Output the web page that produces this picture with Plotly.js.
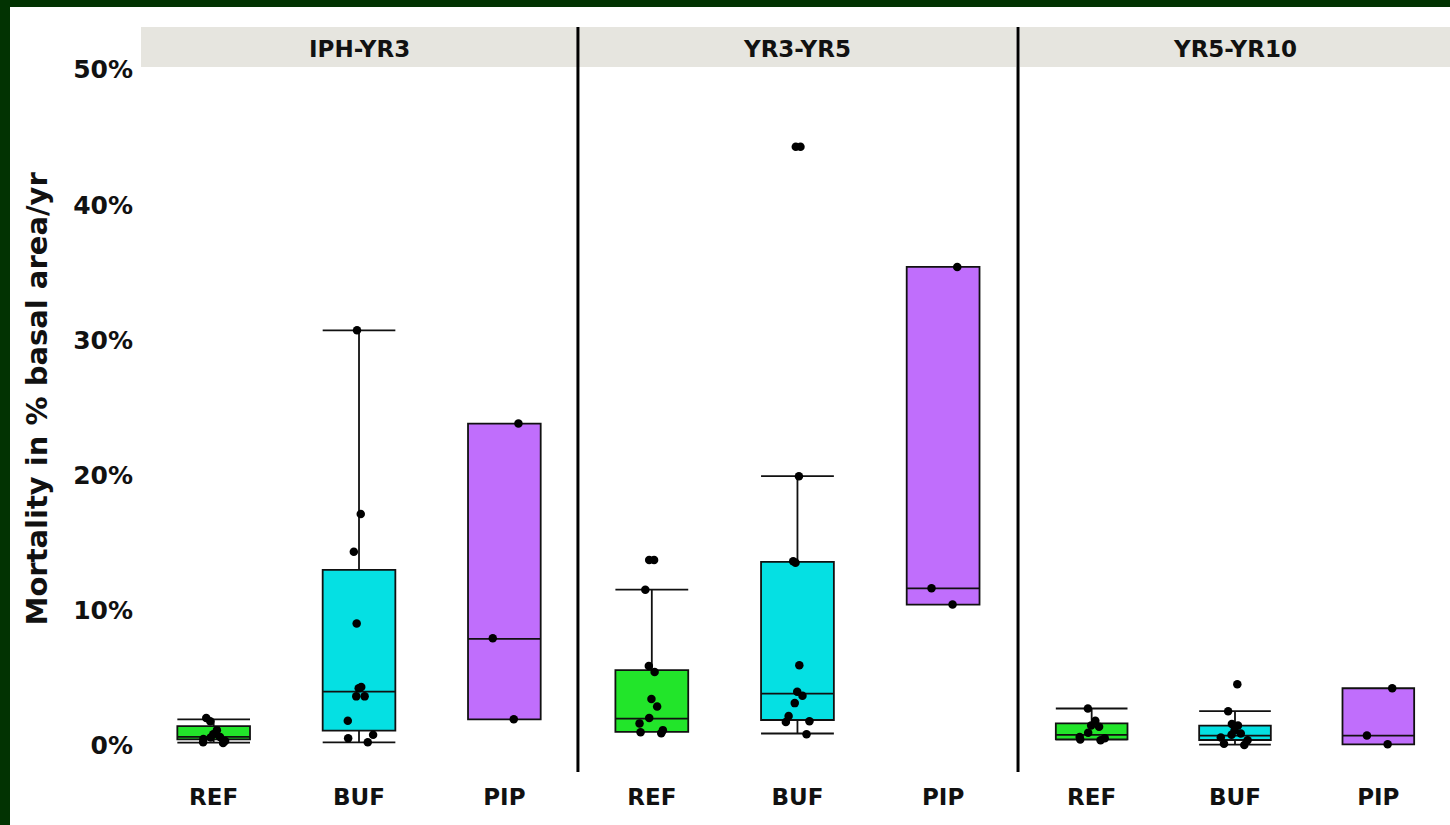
<!DOCTYPE html>
<html>
<head>
<meta charset="utf-8">
<script src="https://cdn.plot.ly/plotly-3.0.1.min.js"></script>
<style>
  html, body { margin: 0; padding: 0; background: #023302; width: 1450px; height: 825px; overflow: hidden; }
  #chart { position: absolute; left: 10px; top: 7px; width: 1440px; height: 818px; background: #fff; }
</style>
</head>
<body>
<div id="chart"></div>
<script>
// ---- categories ----
const treatments = ['REF', 'BUF', 'PIP'];
const periods = ['IPH-YR3', 'YR3-YR5', 'YR5-YR10'];
const treatmentColors = ['#22e52a', '#05e0e3', '#c06efc'];

// ---- y ticks ----
const yTickVals = [0, 10, 20, 30, 40, 50];
const yTickText = ['0%', '10%', '20%', '30%', '40%', '50%'];
const yTitle = 'Mortality in % basal area/yr';

// ---- box statistics (order: REF, BUF, PIP) ----
const p1Low  = [0.17, 0.2, 1.9];
const p1Q1   = [0.42, 1.06, 1.9];
const p1Med  = [0.6, 3.95, 7.85];
const p1Q3   = [1.4, 12.96, 23.8];
const p1High = [1.9, 30.7, 23.8];

const p2Low  = [0.97, 0.85, 10.4];
const p2Q1   = [0.97, 1.85, 10.4];
const p2Med  = [1.95, 3.8, 11.6];
const p2Q3   = [5.55, 13.56, 35.4];
const p2High = [11.5, 19.9, 35.4];

const p3Low  = [0.4, 0.02, 0.05];
const p3Q1   = [0.42, 0.37, 0.05];
const p3Med  = [0.75, 0.69, 0.7];
const p3Q3   = [1.6, 1.43, 4.2];
const p3High = [2.7, 2.5, 4.2];

// ---- individual observations ----
const p1REF = [2.0, 1.75, 1.1, 0.8, 0.6, 0.55, 0.45, 0.3, 0.2, 0.15];
const p1BUF = [30.7, 17.1, 14.3, 9.0, 4.3, 4.2, 3.6, 3.6, 1.8, 0.75, 0.5, 0.2];
const p1PIP = [23.8, 7.9, 1.9];

const p2REF = [13.7, 13.7, 11.5, 5.85, 5.4, 3.4, 2.85, 2.0, 1.6, 1.1, 0.95, 0.87];
const p2BUF = [44.3, 44.3, 19.9, 13.6, 13.5, 5.9, 3.95, 3.65, 3.1, 2.15, 1.75, 1.7, 0.8];
const p2PIP = [35.4, 11.6, 10.4];

const p3REF = [2.7, 1.8, 1.45, 1.35, 0.9, 0.6, 0.5, 0.4, 0.35];
const p3BUF = [4.5, 2.5, 1.55, 1.45, 1.1, 0.85, 0.75, 0.55, 0.35, 0.1, 0.0];
const p3PIP = [4.2, 0.7, 0.05];

const stats = [
  [p1Low, p1Q1, p1Med, p1Q3, p1High],
  [p2Low, p2Q1, p2Med, p2Q3, p2High],
  [p3Low, p3Q1, p3Med, p3Q3, p3High]
];
const obs = [
  [p1REF, p1BUF, p1PIP],
  [p2REF, p2BUF, p2PIP],
  [p3REF, p3BUF, p3PIP]
];

const FONT = 'DejaVu Sans';
const axisIds = ['x', 'x2', 'x3'];
const traces = [];
periods.forEach((per, pi) => {
  const [lo, q1, med, q3, hi] = stats[pi];
  treatments.forEach((tr, ti) => {
    traces.push({
      type: 'box', xaxis: axisIds[pi], yaxis: 'y',
      x: [tr], q1: [q1[ti]], median: [med[ti]], q3: [q3[ti]],
      lowerfence: [lo[ti]], upperfence: [hi[ti]],
      width: 0.5,
      boxpoints: false, whiskerwidth: 1,
      fillcolor: treatmentColors[ti],
      line: { color: '#111', width: 1.8 },
      showlegend: false, hoverinfo: 'skip'
    });
  });
});
periods.forEach((per, pi) => {
  treatments.forEach((tr, ti) => {
    const vals = obs[pi][ti];
    traces.push({
      type: 'box', xaxis: axisIds[pi], yaxis: 'y',
      x: vals.map(() => tr), y: vals,
      width: 0.5,
      boxpoints: 'all', jitter: 0.5, pointpos: 0,
      fillcolor: 'rgba(0,0,0,0)',
      line: { color: 'rgba(0,0,0,0)', width: 0 },
      marker: { color: '#000', size: 8.5 },
      showlegend: false
    });
  });
});

const domains = [[0, 0.3331], [0.3346, 0.6684], [0.6715, 1]];
const sepX = [0.3338, 0.6700];
const stripTop = 1 + 40 / 705;

const xAxisBase = {
  type: 'category', categoryorder: 'array', categoryarray: treatments,
  range: [-0.5, 2.5], showgrid: false, zeroline: false, showline: false,
  ticks: '', ticklabelstandoff: 9,
  tickfont: { family: FONT, size: 23, color: '#111', weight: 'bold' },
  anchor: 'y', fixedrange: true
};

const layout = {
  width: 1440, height: 818,
  margin: { l: 131, r: 0, t: 60, b: 53 },
  paper_bgcolor: '#ffffff', plot_bgcolor: '#ffffff',
  boxmode: 'overlay',
  showlegend: false,
  xaxis: Object.assign({}, xAxisBase, { domain: domains[0] }),
  xaxis2: Object.assign({}, xAxisBase, { domain: domains[1] }),
  xaxis3: Object.assign({}, xAxisBase, { domain: domains[2] }),
  yaxis: {
    range: [-2.0, 50.2], tickvals: yTickVals, ticktext: yTickText,
    showgrid: false, zeroline: false, showline: false, ticks: '',
    ticklabelstandoff: 7,
    tickfont: { family: FONT, size: 25, color: '#111', weight: 'bold' },
    fixedrange: true
  },
  shapes: [],
  annotations: [{
    xref: 'paper', yref: 'paper', x: -0.0794, y: 0.53,
    text: yTitle, textangle: -90, showarrow: false,
    xanchor: 'center', yanchor: 'middle',
    font: { family: FONT, size: 29, color: '#111', weight: 'bold' }
  }]
};

domains.forEach((d, i) => {
  layout.shapes.push({
    type: 'rect', xref: 'paper', yref: 'paper',
    x0: d[0], x1: d[1], y0: 1, y1: stripTop,
    fillcolor: '#e6e5df', line: { width: 0 }, layer: 'below'
  });
  layout.annotations.push({
    xref: 'paper', yref: 'paper', x: (d[0] + d[1]) / 2, y: 1.0255,
    text: periods[i], showarrow: false, xanchor: 'center', yanchor: 'middle',
    font: { family: FONT, size: 23, color: '#111', weight: 'bold' }
  });
});
sepX.forEach(x => {
  layout.shapes.push({
    type: 'line', xref: 'paper', yref: 'paper',
    x0: x, x1: x, y0: 0, y1: stripTop,
    line: { color: '#000', width: 3 }
  });
});

Plotly.newPlot('chart', traces, layout, { displayModeBar: false, staticPlot: true });
</script>
</body>
</html>
